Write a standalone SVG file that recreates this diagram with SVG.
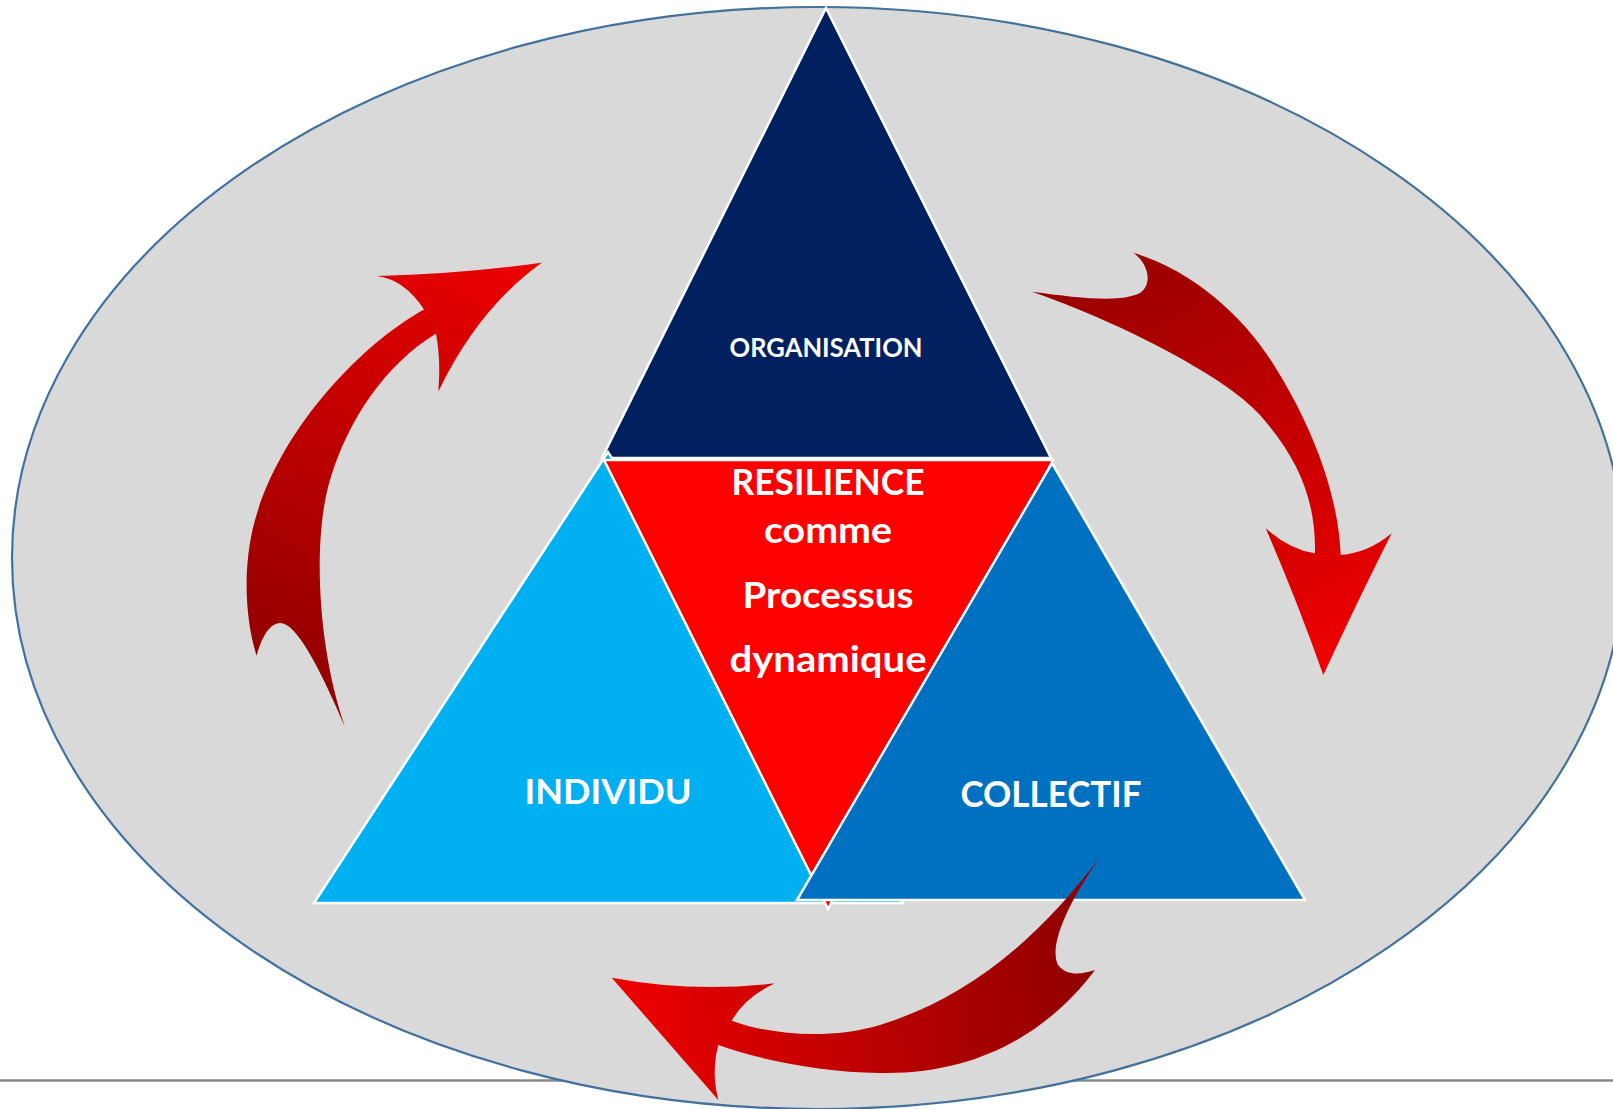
<svg xmlns="http://www.w3.org/2000/svg" width="1613" height="1109" viewBox="0 0 1613 1109">
<style>
.tri{stroke:#ffffff;stroke-width:2.5;stroke-linejoin:miter}
.lbl{font-family:Lato,"Open Sans","Liberation Sans",sans-serif;font-weight:bold;fill:#ffffff;text-anchor:middle}
</style>
<defs>
<linearGradient id="gLeft" gradientUnits="userSpaceOnUse" x1="300" y1="720" x2="540" y2="262">
<stop offset="0" stop-color="#8c0000"/><stop offset="1" stop-color="#ee0000"/>
</linearGradient>
<linearGradient id="gRight" gradientUnits="userSpaceOnUse" x1="1110" y1="250" x2="1324" y2="674">
<stop offset="0" stop-color="#980000"/><stop offset="1" stop-color="#f00000"/>
</linearGradient>
<linearGradient id="gBottom" gradientUnits="userSpaceOnUse" x1="1080" y1="960" x2="612" y2="1000">
<stop offset="0" stop-color="#920000"/><stop offset="1" stop-color="#ee0000"/>
</linearGradient>
</defs>
<rect width="1613" height="1109" fill="#ffffff"/>
<line x1="0" y1="1080.5" x2="1613" y2="1080.5" stroke="#8a8a8a" stroke-width="2.5"/>
<g id="background">
<ellipse cx="818" cy="558" rx="806" ry="551" fill="#d9d9d9" stroke="#41719c" stroke-width="2.2"/>
</g>
<g id="organisation">
<polygon class="tri" points="826,8 602,458 1051,458" fill="#002060"/>
<text class="lbl" x="826" y="357" font-size="26" textLength="193" lengthAdjust="spacingAndGlyphs">ORGANISATION</text>
</g>
<g id="individu">
<polygon class="tri" points="608,452 314,903 903,903" fill="#00b0f0"/>
</g>
<g id="resilience">
<polygon class="tri" points="604,460 1053,460 828,909" fill="#ff0000"/>
</g>
<g id="collectif">
<polygon class="tri" points="1052,463 797,900 1305,900" fill="#0070c0"/>
<text class="lbl" x="1051" y="806.5" font-size="36" textLength="181" lengthAdjust="spacingAndGlyphs">COLLECTIF</text>
</g>
<g id="individu-label">
<text class="lbl" x="608" y="804" font-size="35" textLength="167" lengthAdjust="spacingAndGlyphs">INDIVIDU</text>
</g>
<g id="resilience-label">
<text class="lbl" x="828" y="495" font-size="36" textLength="193" lengthAdjust="spacingAndGlyphs">RESILIENCE</text>
<text class="lbl" x="828" y="543" font-size="36" textLength="128" lengthAdjust="spacingAndGlyphs">comme</text>
<text class="lbl" x="828" y="607.5" font-size="36" textLength="171" lengthAdjust="spacingAndGlyphs">Processus</text>
<text class="lbl" x="828" y="672" font-size="36" textLength="197" lengthAdjust="spacingAndGlyphs">dynamique</text>
</g>
<g id="connectors">
<path id="arrow-left" fill="url(#gLeft)" d="M541.7,262.7 Q460,274 377.3,276 Q405,280 424,309.5 C360,345 280,430 255,520 C240,575 248,630 256.7,655.7 C262,635 272,620 283.3,623.5 C300,628 325,680 345,727 C318,650 312,540 330,480 C348,420 385,365 436,333.6 Q441,360 438.3,391.7 Q478,308.8 541.7,262.7 Z"/>
<path id="arrow-right" fill="url(#gRight)" d="M1133.3,252.7 C1190,270 1240,312 1272,362 C1310,422 1338,490 1340.7,555 Q1368,553 1391.7,533.3 Q1360,596 1323.3,675 Q1296,598 1265.7,528.3 Q1290,550 1315,553.3 C1316,495 1295,455 1260,415 C1225,375 1110,318 1031.7,291.7 C1080,298 1120,303 1140,293 C1152,285 1150,265 1133.3,252.7 Z"/>
<path id="arrow-bottom" fill="url(#gBottom)" d="M611.7,977.7 Q693,993 775,983.3 Q745,997 731.7,1020.7 C770,1035 830,1040 880,1025 C960,1000 1030,950 1100,857 C1070,900 1048,945 1058,965 C1068,978 1085,973 1095,970 C1050,1030 980,1075 880,1073 C820,1072 760,1060 718.3,1045 Q711,1072 718.3,1100 Z"/>
</g>
</svg>
